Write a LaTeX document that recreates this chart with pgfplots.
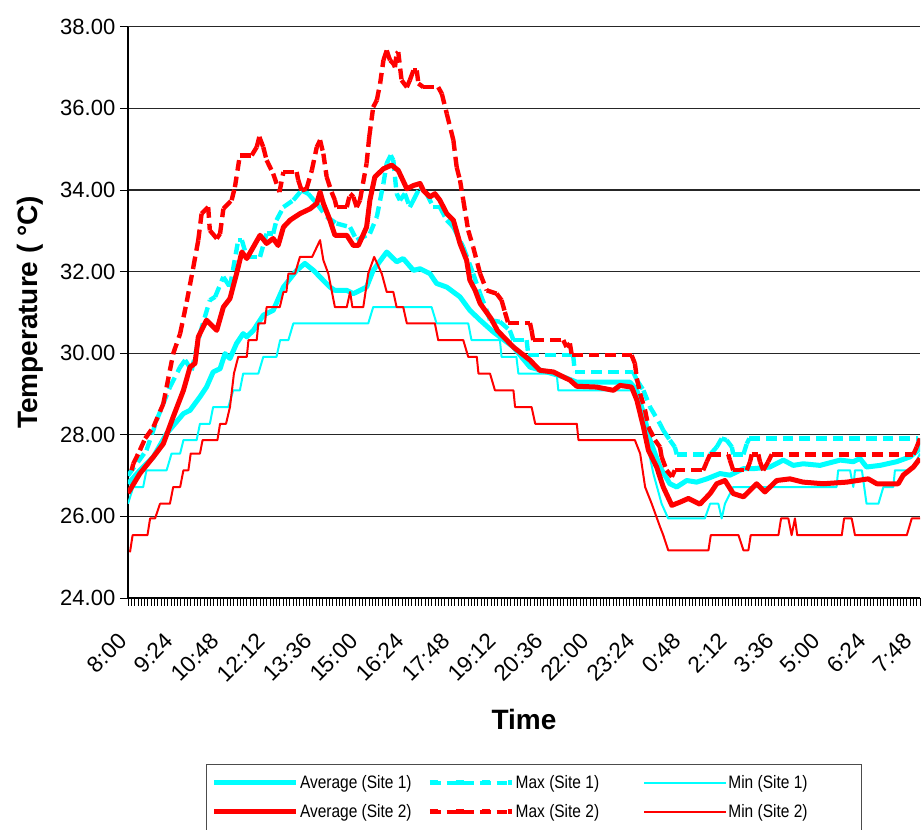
\documentclass[border=0pt]{standalone}
\usepackage{fontspec}
\setmainfont{Liberation Sans}
\usepackage{pgfplots}
\usepackage{pgfplotstable}
\pgfplotsset{compat=1.18}
\usetikzlibrary{decorations.pathreplacing}

\definecolor{sitea}{RGB}{0,255,255}
\definecolor{siteb}{RGB}{255,0,0}

% hours after 8:00, temperature (deg C)
\pgfplotstableread{
h T
0.00 26.80
0.36 27.13
0.77 27.46
1.17 28.03
1.68 28.52
1.88 28.60
2.18 28.93
2.38 29.17
2.58 29.54
2.79 29.62
2.94 29.99
3.09 29.87
3.29 30.24
3.49 30.48
3.60 30.40
3.80 30.56
4.10 30.93
4.40 31.05
4.71 31.62
5.11 32.03
5.36 32.20
5.62 32.03
6.12 31.62
6.27 31.54
6.63 31.54
6.83 31.46
7.23 31.62
7.43 32.03
7.84 32.48
8.14 32.24
8.34 32.32
8.65 32.03
8.85 32.07
9.15 31.95
9.35 31.71
9.66 31.62
10.06 31.38
10.36 31.05
10.67 30.81
11.07 30.52
11.68 30.15
12.18 29.66
12.69 29.54
13.19 29.42
13.60 29.29
15.21 29.29
15.42 29.09
15.62 28.52
15.82 27.87
16.12 27.21
16.42 26.80
16.63 26.72
16.93 26.88
17.23 26.84
17.54 26.92
17.94 27.05
18.24 27.01
18.65 27.17
18.95 27.17
19.45 27.21
19.86 27.38
20.16 27.25
20.46 27.29
20.97 27.25
21.58 27.38
21.98 27.34
22.18 27.42
22.38 27.21
22.79 27.25
23.29 27.34
23.70 27.46
24.00 27.66
}\avgA

\pgfplotstableread{
h T
0.00 27.00
0.56 27.62
0.87 28.36
1.27 29.17
1.58 29.66
1.73 29.83
1.93 29.58
2.18 30.48
2.48 31.30
2.64 31.38
2.89 31.87
3.09 31.62
3.34 32.77
3.45 32.77
3.60 32.36
4.00 32.36
4.20 32.93
4.40 32.93
4.50 33.26
4.71 33.58
5.01 33.75
5.26 33.99
5.46 33.91
5.72 33.67
6.02 33.34
6.32 33.18
6.73 33.09
6.93 32.77
7.33 32.93
7.54 33.34
7.74 34.16
7.84 34.65
7.96 34.85
8.04 34.73
8.14 33.91
8.24 33.75
8.39 33.91
8.54 33.58
8.65 33.75
8.85 34.07
9.05 33.91
9.25 33.58
9.45 33.58
9.66 33.26
9.86 33.09
10.16 32.60
10.46 31.95
10.67 31.46
10.87 31.05
10.97 30.81
11.27 30.77
11.57 30.56
11.68 30.32
12.08 30.32
12.13 29.95
13.49 29.95
13.54 29.54
15.31 29.54
15.42 29.34
15.62 29.09
15.82 28.68
16.12 28.27
16.22 28.11
16.42 27.87
16.57 27.70
16.63 27.52
17.64 27.52
17.84 27.70
17.99 27.91
18.14 27.87
18.30 27.70
18.34 27.52
18.65 27.52
18.75 27.78
18.83 27.91
23.95 27.91
24.00 27.66
}\maxA

\pgfplotstableread{
h T
0.00 26.31
0.16 26.72
0.46 26.72
0.56 27.13
1.17 27.13
1.32 27.54
1.58 27.54
1.68 27.87
2.08 27.87
2.18 28.27
2.48 28.27
2.58 28.68
3.04 28.68
3.19 29.09
3.39 29.09
3.49 29.50
3.95 29.50
4.10 29.91
4.50 29.91
4.61 30.32
4.86 30.32
5.01 30.73
7.28 30.73
7.43 31.13
9.20 31.13
9.35 30.73
10.31 30.73
10.41 30.32
11.27 30.32
11.32 29.91
11.77 29.91
11.83 29.50
12.99 29.50
13.04 29.09
15.31 29.09
15.62 28.19
15.92 27.05
16.17 26.31
16.37 25.95
17.48 25.95
17.64 26.31
17.89 26.31
17.99 25.95
18.09 26.31
18.34 26.72
21.47 26.72
21.52 27.13
21.88 27.13
21.98 26.72
22.03 27.13
22.24 27.13
22.38 26.31
22.74 26.31
22.89 26.72
23.19 26.72
23.24 27.13
23.70 27.13
23.90 27.38
24.00 27.54
}\minA

\pgfplotstableread{
h T
0.00 26.57
0.36 27.05
0.77 27.46
1.07 27.78
1.37 28.44
1.68 29.09
1.88 29.66
2.03 29.75
2.13 30.40
2.38 30.81
2.69 30.56
2.89 31.13
3.09 31.34
3.29 31.95
3.45 32.48
3.60 32.32
4.00 32.89
4.20 32.69
4.40 32.81
4.55 32.64
4.71 33.09
4.91 33.26
5.21 33.42
5.52 33.54
5.72 33.67
5.82 33.95
5.92 33.67
6.12 33.26
6.27 32.89
6.63 32.89
6.83 32.64
6.98 32.64
7.23 33.09
7.33 33.75
7.48 34.32
7.74 34.52
7.99 34.61
8.19 34.48
8.45 34.03
8.65 34.11
8.85 34.16
8.95 33.99
9.15 33.83
9.30 33.91
9.45 33.75
9.66 33.42
9.86 33.26
10.06 32.69
10.26 32.28
10.36 31.79
10.52 31.54
10.67 31.22
11.00 30.85
11.20 30.55
11.68 30.15
12.18 29.83
12.48 29.58
12.89 29.54
13.39 29.34
13.60 29.19
14.20 29.17
14.71 29.09
14.91 29.21
15.26 29.17
15.42 28.85
15.62 28.19
15.77 27.62
16.02 27.21
16.22 26.72
16.48 26.27
16.73 26.35
16.98 26.44
17.33 26.30
17.64 26.56
17.84 26.80
18.09 26.88
18.34 26.56
18.65 26.48
19.05 26.80
19.30 26.60
19.66 26.88
20.06 26.92
20.46 26.84
21.07 26.80
21.78 26.84
22.43 26.92
22.69 26.80
23.34 26.80
23.49 27.01
23.80 27.21
24.00 27.42
}\avgB

\pgfplotstableread{
h T
0.11 27.13
0.16 27.29
0.36 27.62
0.52 27.91
0.77 28.19
1.07 28.76
1.17 29.17
1.37 29.99
1.58 30.48
1.78 31.26
1.98 32.11
2.13 32.77
2.23 33.42
2.43 33.58
2.48 33.01
2.69 32.81
2.79 32.93
2.89 33.54
3.14 33.75
3.24 34.07
3.39 34.85
3.75 34.85
3.90 35.05
3.98 35.30
4.10 35.05
4.20 34.73
4.40 34.40
4.59 33.95
4.71 34.44
5.11 34.44
5.16 34.24
5.26 33.99
5.41 34.03
5.57 34.48
5.72 35.05
5.82 35.22
5.92 34.89
6.02 34.32
6.17 33.95
6.27 33.75
6.32 33.58
6.63 33.58
6.73 33.91
6.83 33.83
6.93 33.58
7.03 33.75
7.23 34.65
7.31 35.30
7.43 36.03
7.54 36.20
7.64 36.61
7.74 37.18
7.84 37.42
7.94 37.18
8.04 37.10
8.09 37.01
8.14 37.34
8.19 37.38
8.29 36.69
8.45 36.52
8.54 36.69
8.65 36.93
8.75 36.93
8.80 36.61
8.95 36.52
9.40 36.52
9.51 36.36
9.66 35.87
9.86 35.22
9.96 34.56
10.06 34.24
10.16 33.75
10.31 33.01
10.46 32.60
10.67 31.95
10.87 31.54
11.17 31.46
11.32 31.30
11.42 31.01
11.52 30.74
12.18 30.74
12.23 30.56
12.28 30.32
13.19 30.32
13.29 30.15
13.39 30.24
13.45 29.95
15.26 29.95
15.36 29.75
15.42 29.38
15.52 29.01
15.67 28.60
15.77 28.19
15.97 27.87
16.12 27.70
16.17 27.46
16.32 27.13
16.48 26.97
16.57 27.13
17.43 27.13
17.54 27.34
17.64 27.52
18.19 27.52
18.24 27.38
18.34 27.13
18.75 27.13
18.85 27.34
18.90 27.52
19.10 27.52
19.15 27.34
19.25 27.13
19.40 27.34
19.51 27.52
23.80 27.52
23.90 27.70
24.00 27.91
}\maxB

\pgfplotstableread{
h T
0.06 25.12
0.14 25.54
0.59 25.54
0.67 25.95
0.82 25.95
0.97 26.31
1.27 26.31
1.37 26.72
1.58 26.72
1.68 27.13
1.83 27.13
1.90 27.54
2.18 27.54
2.26 27.87
2.71 27.87
2.79 28.27
2.97 28.27
3.09 28.68
3.21 29.50
3.34 29.91
3.60 29.91
3.65 30.32
3.90 30.32
3.95 30.73
4.15 30.73
4.20 31.13
4.60 31.13
4.71 31.50
4.80 31.50
4.86 31.95
5.06 31.95
5.21 32.36
5.58 32.36
5.82 32.77
5.92 32.28
6.07 31.95
6.27 31.13
6.63 31.13
6.73 31.50
6.80 31.13
7.13 31.13
7.28 31.95
7.46 32.36
7.69 31.95
7.84 31.50
8.04 31.50
8.14 31.13
8.34 31.13
8.45 30.73
9.30 30.73
9.40 30.32
10.16 30.32
10.31 29.91
10.57 29.91
10.62 29.50
10.97 29.50
11.12 29.09
11.68 29.09
11.73 28.68
12.23 28.68
12.34 28.27
13.60 28.27
13.65 27.87
15.36 27.87
15.52 27.54
15.67 26.72
15.87 26.31
16.12 25.75
16.22 25.54
16.37 25.17
17.59 25.17
17.66 25.54
18.50 25.54
18.65 25.17
18.80 25.17
18.87 25.54
19.71 25.54
19.79 25.95
20.01 25.95
20.11 25.54
20.21 25.95
20.28 25.54
21.63 25.54
21.70 25.95
21.93 25.95
22.03 25.54
23.60 25.54
23.75 25.95
24.00 25.95
}\minB

% dashes restart on every segment, as in the original
\tikzset{
  maxA seg/.style={sitea, line width=3.3pt, dash pattern=on 8pt off 4.5pt},
  maxB seg/.style={siteb, line width=3.3pt, dash pattern=on 8pt off 4.5pt},
}
\newcommand{\legtext}[1]{\makebox[94.5pt][l]{\scalebox{0.86}[1]{#1}}}

\begin{document}
\begin{tikzpicture}
\begin{axis}[
    scale only axis,
    width=594pt, height=428.4pt,
    xmin=0, xmax=24, ymin=24, ymax=38,
    axis x line*=bottom, axis y line*=left,
    axis line style={black, line width=0.9pt},
    ytick={24,26,28,30,32,34,36,38},
    xtick={0,1.4,2.8,4.2,5.6,7,8.4,9.8,11.2,12.6,14,15.4,16.8,18.2,19.6,21,22.4,23.8},
    xticklabels={8:00,9:24,10:48,12:12,13:36,15:00,16:24,17:48,19:12,20:36,22:00,23:24,0:48,2:12,3:36,5:00,6:24,7:48},
    minor xtick={0,0.1,...,24},
    tick align=outside,
    major tick length=6pt, minor tick length=6pt,
    tick style={black, line width=0.5pt},
    ymajorgrids,
    grid style={black!85, line width=0.8pt},
    /pgf/number format/assume math mode=true,
    yticklabel style={font=\fontsize{16.5}{19}\selectfont,
        /pgf/number format/.cd, fixed, fixed zerofill, precision=2},
    xticklabel style={font=\fontsize{17}{19}\selectfont,
        xshift=-1.5pt, yshift=-21pt, rotate=45, anchor=east},
    xlabel={\textbf{Time}},
    ylabel={\textbf{Temperature ( °C)}},
    label style={font=\fontsize{21}{24}\selectfont},
    xlabel style={at={(axis description cs:0.5,-0.2135)}, anchor=center},
    ylabel style={at={(axis description cs:-0.124,0.5)}, anchor=center},
    legend columns=3,
    legend cell align=left,
    legend style={at={(axis description cs:0.0985,-0.291)}, anchor=north west,
        draw=black!70, line width=0.6pt, inner xsep=4pt, inner ysep=7pt,
        row sep=8.5pt, column sep=0pt, nodes={inner sep=1pt},
        font=\fontsize{13.5}{15}\selectfont},
]
\addplot[sitea, line width=3.75pt, line join=round,
    legend image code/.code={\draw[sitea, line width=3.75pt] (0pt,0pt) -- (61.5pt,0pt);}]
    table {\avgA};
\addlegendentry{\legtext{Average (Site 1)}}
\addplot[draw=none,
    postaction={decorate, decoration={show path construction,
        lineto code={\draw[maxA seg] (\tikzinputsegmentfirst) -- (\tikzinputsegmentlast);}}},
    legend image code/.code={\draw[sitea, line width=3.75pt, dash pattern=on 6pt off 13.5pt] (0pt,0pt) -- (61.5pt,0pt);}]
    table {\maxA};
\addlegendentry{\legtext{Max (Site 1)}}
\addplot[sitea, line width=1.5pt, line join=round,
    legend image code/.code={\draw[sitea, line width=1.5pt] (0pt,0pt) -- (61.5pt,0pt);}]
    table {\minA};
\addlegendentry{\legtext{Min (Site 1)}}
\addplot[siteb, line width=3.75pt, line join=round,
    legend image code/.code={\draw[siteb, line width=3.75pt] (0pt,0pt) -- (61.5pt,0pt);}]
    table {\avgB};
\addlegendentry{\legtext{Average (Site 2)}}
\addplot[draw=none,
    postaction={decorate, decoration={show path construction,
        lineto code={\draw[maxB seg] (\tikzinputsegmentfirst) -- (\tikzinputsegmentlast);}}},
    legend image code/.code={\draw[siteb, line width=3.75pt, dash pattern=on 6pt off 13.5pt] (0pt,0pt) -- (61.5pt,0pt);}]
    table {\maxB};
\addlegendentry{\legtext{Max (Site 2)}}
\addplot[siteb, line width=1.5pt, line join=round,
    legend image code/.code={\draw[siteb, line width=1.5pt] (0pt,0pt) -- (61.5pt,0pt);}]
    table {\minB};
\addlegendentry{\legtext{Min (Site 2)}}
\end{axis}
\pgfresetboundingbox
\path[use as bounding box] (-96pt,-174pt) rectangle (594.75pt,448.5pt);
\end{tikzpicture}
\end{document}
